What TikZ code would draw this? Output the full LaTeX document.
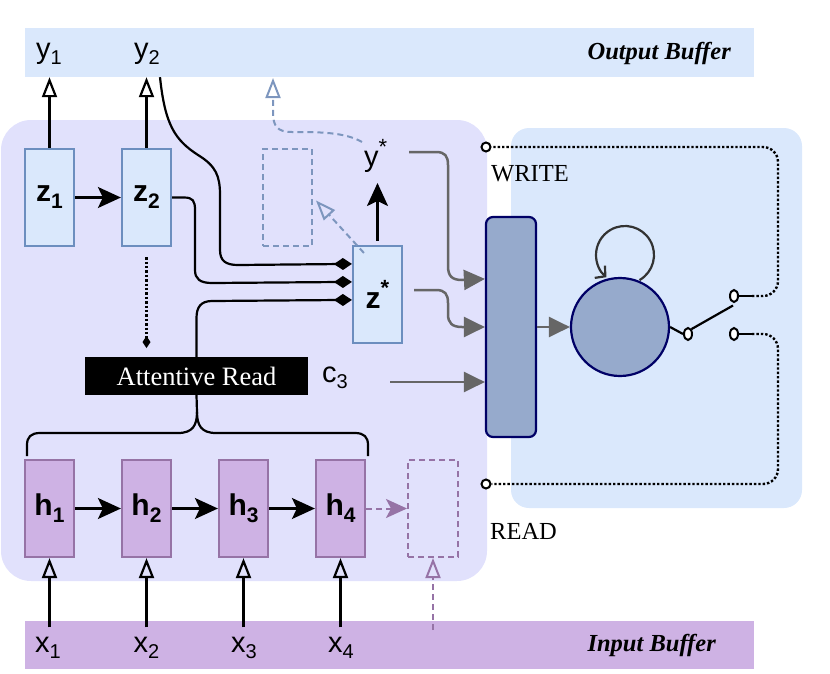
\documentclass[tikz,border=0pt]{standalone}
\usepackage{fontspec}
\setmainfont{Liberation Serif}
\setsansfont{Liberation Sans}
\usetikzlibrary{arrows.meta,calc,shapes.geometric}
\definecolor{bufblue}{RGB}{218,232,252}
\definecolor{bufpurple}{RGB}{206,178,228}
\definecolor{panelL}{RGB}{225,225,252}
\definecolor{zdraw}{RGB}{108,142,191}
\definecolor{hdraw}{RGB}{150,115,166}
\definecolor{ctrlfill}{RGB}{150,170,204}
\definecolor{navyc}{RGB}{0,0,102}
\definecolor{graylink}{RGB}{102,102,102}
\definecolor{dashblue}{RGB}{125,150,190}
\definecolor{loopc}{RGB}{51,51,51}
\newcommand{\slab}[2]{{\fontsize{29}{29}\selectfont #1}\raisebox{-6pt}{\fontsize{20}{20}\selectfont #2}}
\newcommand{\blab}[2]{{\fontsize{30}{30}\selectfont\bfseries #1}\raisebox{-7pt}{\fontsize{21}{21}\selectfont\bfseries #2}}
\begin{document}
\begin{tikzpicture}[x=1pt,y=-1pt,
 zbox/.style={draw=zdraw, fill=bufblue, line width=2.2pt, minimum width=49pt, minimum height=97pt, inner sep=0pt, font=\sffamily\bfseries},
 hbox/.style={draw=hdraw, fill=bufpurple, line width=2.2pt, minimum width=49pt, minimum height=97pt, inner sep=0pt, font=\sffamily\bfseries},
 dzbox/.style={draw=dashblue, dash pattern=on 6pt off 4pt, line width=2pt, minimum width=49pt, minimum height=97pt, inner sep=0pt},
 dhbox/.style={draw=hdraw, dash pattern=on 6pt off 4pt, line width=2pt, minimum width=50pt, minimum height=97pt, inner sep=0pt},
 lab/.style={font=\sffamily, inner sep=0pt, anchor=base},
 blk/.style={line width=2.2pt, black},
 solidarrow/.style={blk, -{Stealth[length=23pt,width=21pt,inset=5pt]}},
 openarrow/.style={blk, -{Triangle[open,length=20pt,width=15pt]}},
 diam/.style={blk, -{Diamond[length=18pt,width=12pt]}},
 gry/.style={line width=2.5pt, graylink, -{Triangle[length=21pt,width=20pt]}},
 dots/.style={line width=2.4pt, dash pattern=on 2.4pt off 2pt},
 sw/.style={ellipse, draw, fill=white, line width=2pt, minimum width=8pt, minimum height=12pt, inner sep=0pt},
 term/.style={circle, draw, fill=white, line width=2pt, minimum size=9pt, inner sep=0pt},
 bluedash/.style={draw=dashblue, line width=2pt, dash pattern=on 6pt off 4pt},
 purpdash/.style={draw=hdraw, line width=2pt, dash pattern=on 6pt off 4pt}]
\useasboundingbox (0,0) rectangle (830,673);
% panels
\fill[panelL, rounded corners=30pt] (1,120) rectangle (487,581);
\fill[bufblue, rounded corners=18pt] (511,128) rectangle (802,508);
% buffers
\node[fill=bufblue, minimum width=729pt, minimum height=49pt, inner sep=0pt] (outbuf) at (389.5,52.5) {};
\node[fill=bufpurple, minimum width=729pt, minimum height=48pt, inner sep=0pt] (inbuf) at (389.5,645) {};
\node[anchor=base east, inner sep=0pt, font=\fontsize{24.5}{24.5}\selectfont\bfseries\itshape] (outlab) at (731,59) {Output Buffer};
\node[anchor=base east, inner sep=0pt, font=\fontsize{24.5}{24.5}\selectfont\bfseries\itshape] (inlab) at (716,651) {Input Buffer};
% labels
\node[lab] (y1) at (49,58) {\slab{y}{1}};
\node[lab] (y2) at (147,58) {\slab{y}{2}};
\node[lab] (x1) at (48,652) {\slab{x}{1}};
\node[lab] (x2) at (146.5,652) {\slab{x}{2}};
\node[lab] (x3) at (244,652) {\slab{x}{3}};
\node[lab] (x4) at (341,652) {\slab{x}{4}};
\node[lab, anchor=base west] (ys) at (364,166) {{\fontsize{29}{29}\selectfont y}\raisebox{12pt}{\fontsize{22}{22}\selectfont *}};
\node[lab] (c3) at (335,382) {\slab{c}{3}};
\node[anchor=base west, inner sep=0pt, font=\fontsize{24.5}{24.5}\selectfont] (wlab) at (491,181) {WRITE};
\node[anchor=base west, inner sep=0pt, font=\fontsize{24.5}{24.5}\selectfont] (rlab) at (490,539) {READ};
% boxes
\node[zbox] (z1) at (49.5,197.5) {\blab{z}{1}};
\node[zbox] (z2) at (146.5,197.5) {\blab{z}{2}};
\node[dzbox] (dz) at (287.5,197.5) {};
\node[zbox] (zs) at (377.5,294.5) {{\fontsize{30}{30}\selectfont z}\raisebox{13pt}{\fontsize{22}{22}\selectfont *}};
\node[hbox] (h1) at (49.5,508.5) {\blab{h}{1}};
\node[hbox] (h2) at (146.5,508.5) {\blab{h}{2}};
\node[hbox] (h3) at (243.5,508.5) {\blab{h}{3}};
\node[hbox] (h4) at (340.5,508.5) {\blab{h}{4}};
\node[dhbox] (dh) at (433,508.5) {};
\node[fill=black, text=white, minimum width=223pt, minimum height=38pt, inner sep=0pt, font=\fontsize{26.5}{26.5}\selectfont] (ar) at (196.5,376) {Attentive Read};
\node[draw=navyc, fill=ctrlfill, line width=2.2pt, rounded corners=7pt, minimum width=50pt, minimum height=220pt, inner sep=0pt] (ctrl) at (511,327) {};
\node[circle, draw=navyc, fill=ctrlfill, line width=2.2pt, minimum size=98pt, inner sep=0pt] (cell) at (620,327) {};
% output arrows
\draw[openarrow] (z1.north) -- (z1.north |- outbuf.south);
\draw[openarrow] (z2.north) -- (z2.north |- outbuf.south);
\draw[solidarrow] (z1.east) -- (z2.west);
% input arrows
\draw[openarrow, shorten <=9pt] (h1.south |- x1.north) -- (h1.south);
\draw[openarrow, shorten <=9pt] (h2.south |- x2.north) -- (h2.south);
\draw[openarrow, shorten <=9pt] (h3.south |- x3.north) -- (h3.south);
\draw[openarrow, shorten <=9pt] (h4.south |- x4.north) -- (h4.south);
\draw[solidarrow] (h1.east) -- (h2.west);
\draw[solidarrow] (h2.east) -- (h3.west);
\draw[solidarrow] (h3.east) -- (h4.west);
% dashed purple
\draw[purpdash, -{Stealth[length=21pt,width=19pt,inset=5pt]}, hdraw] (h4.east) -- (dh.west);
\coordinate (dhin) at (433,630);
\draw[purpdash, -{Triangle[open,length=20pt,width=15pt]}] (dhin) -- (dh.south);
% inputs to z*
\coordinate (zin1) at ($(zs.north west)+(0,19)$);
\coordinate (zin2) at ($(zs.north west)+(0,37)$);
\coordinate (zin3) at ($(zs.north west)+(0,55)$);
\draw[diam] (y2.east |- outbuf.south) .. controls (165,125) and (175,140) .. (198,155) .. controls (216,166) and (220,176) .. (220,195) -- (220,250) .. controls (220,261) and (226,265) .. (238,265) -- (zin1);
\draw[diam] (z2.east) -- (184,197.5) .. controls (193,197.5) and (195,201) .. (195,210) -- (195,270) .. controls (195,279) and (200,283) .. (212,283) -- (zin2);
\draw[diam] (ar.north) -- (196.5,318) .. controls (196.5,307) and (201,301) .. (212,301) -- (zin3);
% dotted from z2
\coordinate (zdot) at (146.5,348);
\draw[blk, dash pattern=on 2.4pt off 2pt, line width=2.4pt, shorten <=10pt, -{Diamond[length=12pt,width=8pt]}] (z2.south) -- (zdot);
% brace
\draw[blk] (27,456) -- (27,445) .. controls (27,437) and (31,433) .. (40,433) -- (178,433) .. controls (193,433) and (197,425) .. (197,412) -- (ar.south);
\draw[blk] (368,456) -- (368,445) .. controls (368,437) and (364,433) .. (355,433) -- (216,433) .. controls (201,433) and (197,425) .. (197,412);
% z* to y*
\draw[solidarrow, shorten <=4pt] (zs.north) -- (377.5,183);
\draw[bluedash, -{Triangle[open,length=20pt,width=15pt]}] ($(zs.north west)+(12,8)$) -- ($(dz.east)+(3,3)$);
\coordinate (ysd) at (362,142);
\draw[bluedash, -{Triangle[open,length=20pt,width=15pt]}] (ysd) .. controls (345,132) and (318,132) .. (292,132) .. controls (277,132) and (273,126) .. (273,112) -- (273,78);
% gray arrows to controller
\coordinate (ysout) at (409,152);
\coordinate (zsout) at (414,290);
\coordinate (c3out) at (390,382);
\coordinate (cin1) at ($(ctrl.north west)+(0,63)$);
\coordinate (cin3) at ($(ctrl.west)+(0,55)$);
\draw[gry] (ysout) -- (436,152) .. controls (445,152) and (448,156) .. (448,165) -- (448,266) .. controls (448,276) and (452,280) .. (462,280) -- (cin1);
\draw[gry] (zsout) -- (436,290) .. controls (445,290) and (448,294) .. (448,303) -- (448,314) .. controls (448,323) and (452,327) .. (462,327) -- (ctrl.west);
\draw[gry] (c3out) -- (cin3);
\draw[gry] (ctrl.east) -- (cell.west);
% self loop
\draw[loopc, line width=2.2pt, -{Straight Barb[length=7pt,width=16pt]}] (639.5,280.1) arc[start angle=60, end angle=-230, radius=29];
% switch
\node[sw] (sw0) at (688,334) {};
\node[sw] (sw1) at (734,296) {};
\node[sw] (sw2) at (734,334) {};
\node[term] (wc) at (486,147) {};
\node[term] (rc) at (486,484) {};
\draw[blk] (cell.east) -- (sw0.west);
\draw[blk] (sw0.north east) -- ($(sw1.south)+(-1,2.5)$);
\coordinate (t1) at (752,296);
\coordinate (t2) at (752,334);
\draw[blk] (sw1.east) -- (t1);
\draw[blk] (sw2.east) -- (t2);
\draw[blk, dots, rounded corners=15pt] (t1) -- (778,296) -- (778,147) -- (wc.east);
\draw[blk, dots, rounded corners=15pt] (t2) -- (778,334) -- (778,484) -- (rc.east);
\end{tikzpicture}
\end{document}
